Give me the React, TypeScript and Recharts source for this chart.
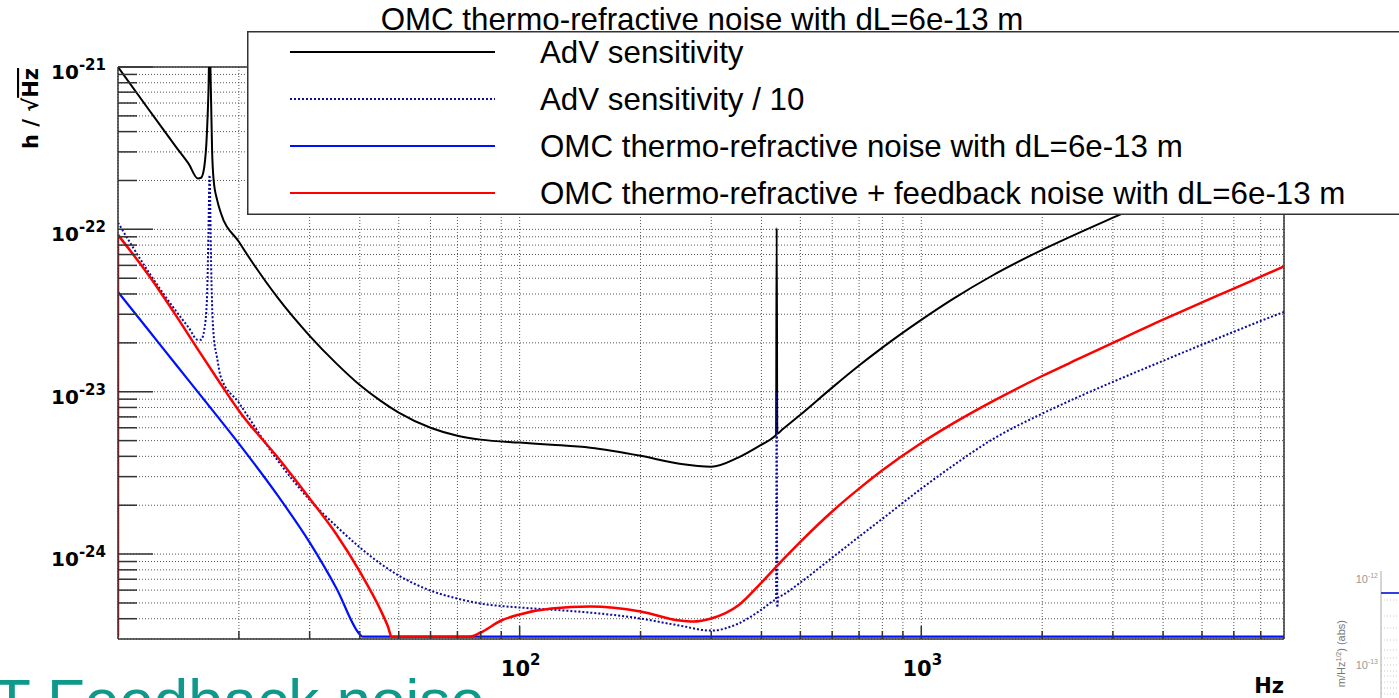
import React from 'react';
import {
  LineChart,
  Line,
  XAxis,
  YAxis,
  CartesianGrid,
  Legend,
  ReferenceLine,
} from 'recharts';

// AdV sensitivity (black)
const advHz = [10, 12, 14, 15, 15.8, 16.1, 16.4, 16.65, 16.8, 16.9, 17.05, 17.15, 17.3, 17.65, 18, 20, 25, 30, 35, 40, 45, 50, 60, 70, 80, 100, 120, 150, 200, 250, 300, 350, 400, 430, 435, 436.5, 438, 450, 500, 600, 700, 800, 1000, 1200, 1500, 2000, 2500, 3000, 4000, 5000, 8000];
const advStrain = [1.0e-21, 5.36e-22, 3.18e-22, 2.53e-22, 2.06e-22, 2.08e-22, 2.43e-22, 3.93e-22, 7.21e-22, 1.47e-21, 6.26e-22, 3.08e-22, 2.02e-22, 1.52e-22, 1.28e-22, 8.38e-23, 3.78e-23, 2.21e-23, 1.49e-23, 1.1e-23, 8.81e-24, 7.43e-24, 6.0e-24, 5.36e-24, 5.07e-24, 4.86e-24, 4.72e-24, 4.52e-24, 4.03e-24, 3.6e-24, 3.45e-24, 3.93e-24, 4.72e-24, 5.28e-24, 5.43e-24, 1.02e-22, 5.52e-24, 5.83e-24, 7.21e-24, 1.06e-23, 1.45e-23, 1.87e-23, 2.77e-23, 3.73e-23, 5.18e-23, 7.48e-23, 9.66e-23, 1.18e-22, 1.61e-22, 2.08e-22, 3.56e-22];

// AdV sensitivity / 10 (dotted)
const advTenthHz = [10, 12, 14, 15, 15.8, 16.1, 16.4, 16.65, 16.8, 16.9, 17.05, 17.15, 17.3, 17.65, 18, 20, 25, 30, 35, 40, 45, 50, 60, 70, 80, 100, 120, 150, 200, 250, 300, 350, 400, 430, 435, 436.5, 438, 440, 450, 500, 600, 700, 800, 1000, 1200, 1500, 2000, 2500, 3000, 4000, 5000, 6000, 7000, 8000];
const advTenthStrain = [1.1e-22, 5.32e-23, 3.1e-23, 2.48e-23, 2.09e-23, 2.09e-23, 2.41e-23, 3.68e-23, 9.93e-23, 2.16e-22, 6.3e-23, 3.43e-23, 2.24e-23, 1.62e-23, 1.25e-23, 8.55e-24, 3.76e-24, 2.16e-24, 1.48e-24, 1.1e-24, 8.74e-25, 7.38e-25, 5.96e-25, 5.32e-25, 4.96e-25, 4.69e-25, 4.55e-25, 4.36e-25, 4.01e-25, 3.63e-25, 3.38e-25, 3.73e-25, 4.55e-25, 5.18e-25, 5.25e-25, 1.0e-23, 4.69e-25, 5.4e-25, 5.56e-25, 6.68e-25, 9.51e-25, 1.28e-24, 1.65e-24, 2.53e-24, 3.51e-24, 5.07e-24, 7.33e-24, 9.45e-24, 1.15e-23, 1.55e-23, 1.95e-23, 2.34e-23, 2.73e-23, 3.1e-23];

// OMC thermo-refractive noise (blue)
const omcHz = [10, 12, 14, 16, 20, 25, 30, 35, 40, 40.6, 8000];
const omcStrain = [4.12e-23, 2.34e-23, 1.45e-23, 9.6e-24, 4.79e-24, 2.29e-24, 1.18e-24, 6.14e-25, 3.2e-25, 3.1e-25, 3.1e-25];

// OMC thermo-refractive + feedback noise (red)
const omcFbHz = [10, 12, 14, 16, 18, 20, 25, 30, 35, 40, 45, 47, 48, 75, 80, 90, 100, 120, 150, 200, 250, 270, 300, 350, 400, 450, 500, 600, 700, 800, 1000, 1200, 1500, 2000, 2500, 3000, 4000, 5000, 6000, 7000, 8000];
const omcFbStrain = [9.25e-23, 5.1e-23, 2.9e-23, 1.74e-23, 1.12e-23, 7.64e-24, 3.93e-24, 2.2e-24, 1.32e-24, 7.8e-25, 4.55e-25, 3.58e-25, 3.1e-25, 3.1e-25, 3.29e-25, 3.9e-25, 4.25e-25, 4.62e-25, 4.75e-25, 4.43e-25, 3.9e-25, 3.84e-25, 4.01e-25, 4.82e-25, 6.68e-25, 9.12e-25, 1.19e-24, 1.83e-24, 2.53e-24, 3.28e-24, 4.83e-24, 6.38e-24, 8.69e-24, 1.25e-23, 1.62e-23, 2.0e-23, 2.78e-23, 3.55e-23, 4.32e-23, 5.11e-23, 5.91e-23];
// the red trace also runs down the left edge of the frame at 10 Hz
const omcFbEdgeHz = [10, 10];
const omcFbEdgeStrain = [3.1e-25, 9.25e-23];

const seriesNames = [
  'AdV sensitivity',
  'AdV sensitivity / 10',
  'OMC thermo-refractive noise with dL=6e-13 m',
  'OMC thermo-refractive + feedback noise with dL=6e-13 m',
];

const xTicks = [20, 30, 40, 50, 60, 70, 80, 90, 100, 200, 300, 400, 500, 600, 700, 800, 900, 1000, 2000, 3000, 4000, 5000, 6000, 7000];
const yTicks = [
  4e-25, 5e-25, 6e-25, 7e-25, 8e-25, 9e-25,
  1e-24, 2e-24, 3e-24, 4e-24, 5e-24, 6e-24, 7e-24, 8e-24, 9e-24,
  1e-23, 2e-23, 3e-23, 4e-23, 5e-23, 6e-23, 7e-23, 8e-23, 9e-23,
  1e-22, 2e-22, 3e-22, 4e-22, 5e-22, 6e-22, 7e-22, 8e-22, 9e-22,
  1e-21,
];

const chartTitle = 'OMC thermo-refractive noise with dL=6e-13 m';

const zip = (hz: number[], v: number[]) => hz.map((f, i) => ({ f, v: v[i] }));
const advData = zip(advHz, advStrain);
const advTenthData = zip(advTenthHz, advTenthStrain);
const omcData = zip(omcHz, omcStrain);
const omcFbData = zip(omcFbHz, omcFbStrain);
const omcFbEdgeData = zip(omcFbEdgeHz, omcFbEdgeStrain);

const LEFT = 118;
const BOTTOM = 639;
const tickFont = 'DejaVu Sans, sans-serif';
const textFont = 'Liberation Sans, Arial, sans-serif';

const isMajor = (v: number) => {
  const l = Math.log10(v);
  return Math.abs(l - Math.round(l)) < 1e-6;
};

const YTick = (props: any) => {
  const { y, payload } = props;
  const major = isMajor(payload.value);
  return (
    <g>
      <line x1={LEFT} x2={LEFT + (major ? 35 : 19)} y1={y} y2={y} stroke="#333" strokeWidth={1.5} />
      {major && (
        <text x={106} y={y + 12} textAnchor="end" fontFamily={tickFont} fontWeight="bold" fontSize={20} fill="#000">
          10
          <tspan dy={-9} fontSize={15}>
            {Math.round(Math.log10(payload.value))}
          </tspan>
        </text>
      )}
    </g>
  );
};

const XTick = (props: any) => {
  const { x, payload } = props;
  const major = isMajor(payload.value);
  return (
    <g>
      <line x1={x} x2={x} y1={BOTTOM} y2={BOTTOM - (major ? 13 : 8)} stroke="#333" strokeWidth={1.5} />
      {major && (
        <text x={x + 1} y={676} textAnchor="middle" fontFamily={tickFont} fontWeight="bold" fontSize={21} fill="#000">
          10
          <tspan dy={-11} fontSize={15}>
            {Math.round(Math.log10(payload.value))}
          </tspan>
        </text>
      )}
    </g>
  );
};

const renderLegend = (props: any) => {
  const rows = (props.payload || [])
    .filter((e: any) => seriesNames.includes(e.value))
    .sort((a: any, b: any) => seriesNames.indexOf(a.value) - seriesNames.indexOf(b.value));
  return (
    <svg width={1160} height={184} style={{ display: 'block' }}>
      <rect x={0.75} y={0.75} width={1158} height={182.5} fill="#fff" stroke="#333" strokeWidth={1.5} />
      {rows.map((entry: any, i: number) => {
        const cy = 21 + i * 47;
        return (
          <g key={entry.value}>
            <line
              x1={43}
              x2={248}
              y1={cy}
              y2={cy}
              stroke={entry.color}
              strokeWidth={2}
              strokeDasharray={entry.payload?.strokeDasharray}
            />
            <text x={293} y={cy + 11} fontFamily={textFont} fontSize={31.3} fill="#000">
              {entry.value}
            </text>
          </g>
        );
      })}
    </svg>
  );
};

export default function App() {
  return (
    <div
      style={{
        position: 'fixed',
        left: 0,
        top: 0,
        width: 1399,
        height: 698,
        overflow: 'hidden',
        background: '#fff',
      }}
    >
      <svg width={1399} height={40} style={{ position: 'absolute', left: 0, top: 0, display: 'block' }}>
        <text x={702} y={30} textAnchor="middle" fontFamily={textFont} fontSize={31.3} fill="#000">
          {chartTitle}
        </text>
      </svg>

      <div style={{ position: 'absolute', left: 0, top: 0 }}>
        <LineChart width={1399} height={698} margin={{ top: 67, right: 115, bottom: 29, left: 58 }}>
          <CartesianGrid stroke="#555" strokeDasharray="1 2" strokeWidth={1} />
          <XAxis
            dataKey="f"
            type="number"
            scale="log"
            domain={[10, 8000]}
            allowDataOverflow
            ticks={xTicks}
            interval={0}
            tick={<XTick />}
            tickLine={false}
            height={30}
            axisLine={{ stroke: '#333', strokeWidth: 1.5 }}
            label={{
              content: () => (
                <text x={1284} y={693} textAnchor="end" fontFamily={tickFont} fontWeight="bold" fontSize={21} fill="#000">
                  Hz
                </text>
              ),
            }}
          />
          <YAxis
            type="number"
            scale="log"
            domain={[3e-25, 1e-21]}
            allowDataOverflow
            ticks={yTicks}
            interval={0}
            tick={<YTick />}
            tickLine={false}
            width={60}
            axisLine={{ stroke: '#333', strokeWidth: 1.5 }}
            label={{
              content: () => (
                <text
                  x={38}
                  y={68}
                  transform="rotate(-90 38 68)"
                  textAnchor="end"
                  fontFamily={tickFont}
                  fontWeight="bold"
                  fontSize={21}
                  fill="#000"
                >
                  h / √<tspan style={{ textDecoration: 'overline' }}>Hz</tspan>
                </text>
              ),
            }}
          />
          <ReferenceLine y={1e-21} stroke="#333" strokeWidth={1.5} />
          <ReferenceLine x={8000} stroke="#333" strokeWidth={1.5} />
          <Line
            data={advData}
            dataKey="v"
            name={seriesNames[0]}
            type="monotone"
            stroke="#000000"
            strokeWidth={2}
            dot={false}
            isAnimationActive={false}
          />
          <Line
            data={advTenthData}
            dataKey="v"
            name={seriesNames[1]}
            type="monotone"
            stroke="#0b0b9c"
            strokeWidth={2}
            strokeDasharray="2 2"
            dot={false}
            isAnimationActive={false}
          />
          <Line
            data={omcData}
            dataKey="v"
            name={seriesNames[2]}
            type="monotone"
            stroke="#0010ff"
            strokeWidth={2.2}
            dot={false}
            isAnimationActive={false}
          />
          <Line
            data={omcFbEdgeData}
            dataKey="v"
            name="edge"
            legendType="none"
            type="linear"
            stroke="#ff0000"
            strokeWidth={2.5}
            dot={false}
            isAnimationActive={false}
          />
          <Line
            data={omcFbData}
            dataKey="v"
            name={seriesNames[3]}
            type="monotone"
            stroke="#ff0000"
            strokeWidth={2.5}
            dot={false}
            isAnimationActive={false}
          />
          <Legend
            layout="horizontal"
            align="center"
            verticalAlign="middle"
            content={renderLegend}
            wrapperStyle={{ left: 247, top: 31, width: 1160, height: 184, right: 'auto', bottom: 'auto' }}
          />
        </LineChart>
      </div>

      {/* slide text peeking in at the bottom left */}
      <svg width={560} height={698} style={{ position: 'absolute', left: 0, top: 0, pointerEvents: 'none' }}>
        <text x={-7} y={722} fontFamily={textFont} fontSize={62} fill="#0f998b">
          T Feedback noise
        </text>
      </svg>

      {/* fragment of another plot at the bottom right */}
      <svg width={80} height={140} style={{ position: 'absolute', left: 1319, top: 558 }}>
        {[42, 58, 70, 82, 92, 100, 107, 113, 118, 124, 130, 136].map((yy) => (
          <line key={yy} x1={62} x2={80} y1={yy} y2={yy} stroke="#ccc" strokeDasharray="1 2" />
        ))}
        <line x1={62} x2={62} y1={13} y2={140} stroke="#aaa" strokeWidth={1} />
        <line x1={62} x2={80} y1={35} y2={35} stroke="#3340e0" strokeWidth={2} />
        <text x={59} y={25} textAnchor="end" fontFamily={textFont} fontSize={11} fill="#999">
          10<tspan dy={-5} fontSize={7}>-12</tspan>
        </text>
        <text x={59} y={111} textAnchor="end" fontFamily={textFont} fontSize={11} fill="#999">
          10<tspan dy={-5} fontSize={7}>-13</tspan>
        </text>
        <text x={26} y={62} transform="rotate(-90 26 62)" textAnchor="end" fontFamily={textFont} fontSize={11} fill="#777">
          m/Hz<tspan dy={-4} fontSize={7}>1/2</tspan>
          <tspan dy={4}>) (abs)</tspan>
        </text>
      </svg>
    </div>
  );
}
